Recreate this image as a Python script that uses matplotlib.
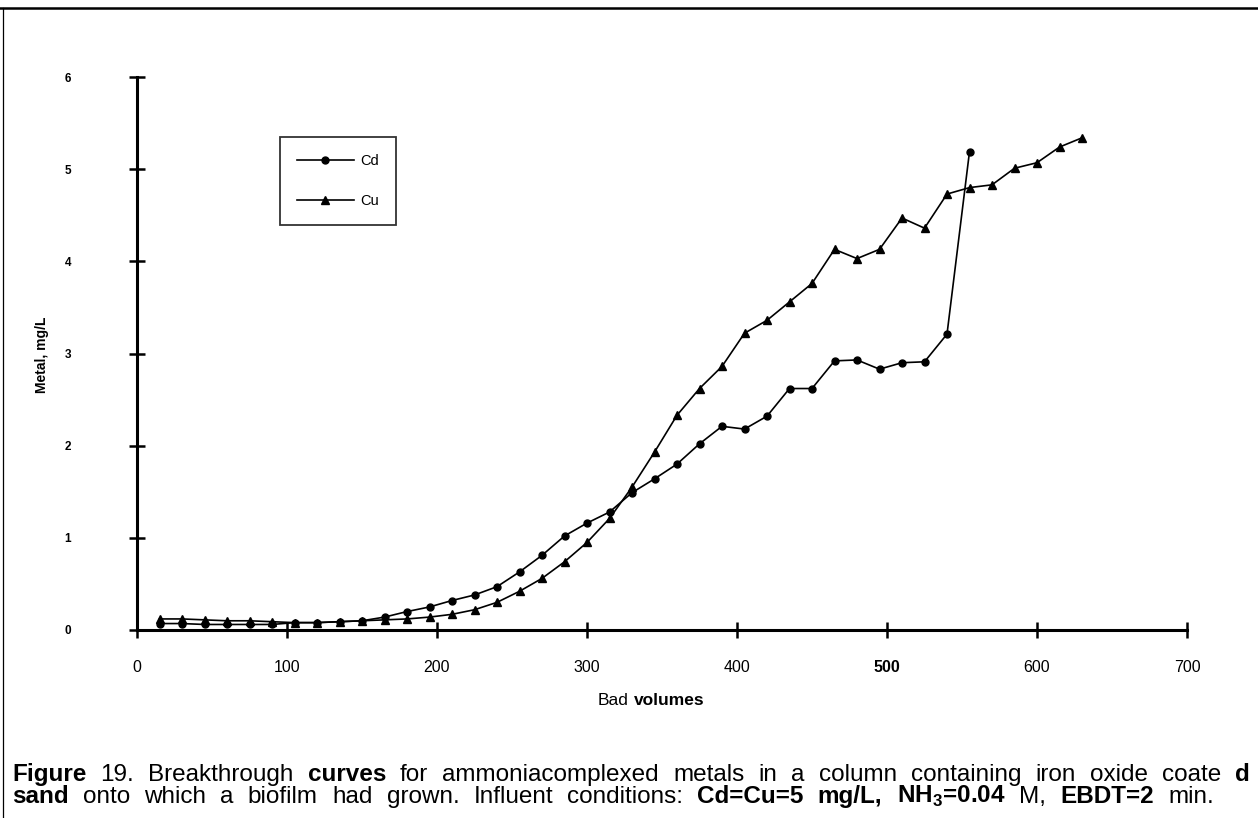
import matplotlib
matplotlib.use("Agg")
import matplotlib.pyplot as plt
from matplotlib.lines import Line2D

plt.rcParams['font.family'] = ['Liberation Sans', 'DejaVu Sans']
plt.rcParams['mathtext.fontset'] = 'custom'
plt.rcParams['mathtext.rm'] = 'Liberation Sans'
plt.rcParams['mathtext.bf'] = 'Liberation Sans:bold'

# Bed volumes and effluent concentrations (mg/L)
cd_bv = [15, 30, 45, 60, 75, 90, 105, 120, 135, 150, 165, 180, 195, 210, 225,
         240, 255, 270, 285, 300, 315, 330, 345, 360, 375, 390, 405, 420, 435,
         450, 465, 480, 495, 510, 525, 540, 555]
cd_val = [0.07, 0.07, 0.06, 0.06, 0.06, 0.06, 0.08, 0.08, 0.09, 0.10, 0.14,
          0.20, 0.25, 0.32, 0.38, 0.47, 0.63, 0.81, 1.02, 1.16, 1.28, 1.49,
          1.64, 1.80, 2.02, 2.21, 2.18, 2.32, 2.62, 2.62, 2.92, 2.93, 2.83,
          2.90, 2.91, 3.21, 5.19]

cu_bv = [15, 30, 45, 60, 75, 90, 105, 120, 135, 150, 165, 180, 195, 210, 225,
         240, 255, 270, 285, 300, 315, 330, 345, 360, 375, 390, 405, 420, 435,
         450, 465, 480, 495, 510, 525, 540, 555, 570, 585, 600, 615, 630]
cu_val = [0.12, 0.12, 0.11, 0.10, 0.10, 0.09, 0.08, 0.08, 0.09, 0.10, 0.11,
          0.12, 0.14, 0.17, 0.22, 0.30, 0.42, 0.56, 0.74, 0.95, 1.21, 1.55,
          1.93, 2.33, 2.62, 2.86, 3.22, 3.36, 3.56, 3.76, 4.13, 4.03, 4.13,
          4.47, 4.36, 4.73, 4.80, 4.83, 5.01, 5.07, 5.24, 5.34]

x_ticks = [0, 100, 200, 300, 400, 500, 600, 700]
y_ticks = [0, 1, 2, 3, 4, 5, 6]

W, H = 1258, 818
fig = plt.figure(figsize=(W / 100, H / 100), dpi=100)
fig.patch.set_facecolor('white')

# axes: x 0..700 -> px 137..1187 ; y 0..6 -> px 630..77
ax = fig.add_axes([137 / W, (H - 630) / H, 1050 / W, (630 - 77) / H])
ax.set_xlim(0, 700)
ax.set_ylim(0, 6)
ax.patch.set_alpha(0)

ax.plot(cd_bv, cd_val, color='black', lw=1.2, marker='o', ms=5, clip_on=False,
        label='Cd')
ax.plot(cu_bv, cu_val, color='black', lw=1.2, marker='^', ms=5.5, clip_on=False,
        label='Cu')

for s in ['top', 'right']:
    ax.spines[s].set_visible(False)
for s in ['left', 'bottom']:
    ax.spines[s].set_linewidth(2.2)

ax.set_xticks(x_ticks)
ax.set_yticks(y_ticks)
ax.set_xticklabels([str(v) for v in x_ticks])
ax.set_yticklabels([str(v) for v in y_ticks])
ax.tick_params(axis='x', direction='inout', length=11, width=1.8, pad=16,
               labelsize=11.5)
ax.tick_params(axis='y', direction='inout', length=11, width=1.8, pad=42,
               labelsize=8.5)
for t in ax.get_yticklabels():
    t.set_fontweight('bold')
for t in ax.get_xticklabels():
    if t.get_text() == '500':
        t.set_fontweight('bold')

leg = ax.legend(loc='upper left', bbox_to_anchor=((280 - 137) / 1050, (630 - 137) / 553),
                frameon=True, fancybox=False, edgecolor='black', fontsize=10.5,
                handlelength=3.9, borderpad=1.15, labelspacing=1.8,
                handletextpad=0.45, borderaxespad=0)
leg.get_frame().set_linewidth(1.3)

# y label
fig.text(42 / W, 1 - 355 / H, 'Metal, mg/L', rotation=90, ha='center',
         va='center', fontsize=10, fontweight='bold')

renderer = fig.canvas.get_renderer()


def chain(parts, x_px, y_px, size, right_px=None):
    """Place words one after another on a common baseline; optionally
    spread the word gaps so the line ends at right_px."""
    space = size * 100 / 72 * 0.278
    words = []
    for text, weight, gap in parts:
        toks = text.split(' ')
        for i, tok in enumerate(toks):
            last = i == len(toks) - 1
            words.append((tok, weight, gap if last else True))
    arts = []
    for tok, weight, gap in words:
        t = fig.text(0, 1 - y_px / H, tok, fontsize=size, fontweight=weight,
                     ha='left', va='baseline')
        arts.append((t, t.get_window_extent(renderer=renderer).width, gap))
    ngaps = sum(1 for a in arts[:-1] if a[2])
    total = sum(a[1] for a in arts) + ngaps * space
    extra = 0.0
    if right_px is not None and ngaps:
        extra = max(0.0, (right_px - x_px - total) / ngaps)
    x = x_px
    for t, w, gap in arts:
        t.set_x(x / W)
        x += w + ((space + extra) if gap else 0)


chain([('Bad', 'normal', True), ('volumes', 'bold', False)], 598, 705, 12.5)

chain([('Figure', 'bold', True),
       ('19. Breakthrough', 'normal', True),
       ('curves', 'bold', True),
       ('for ammoniacomplexed metals in a column containing iron oxide coate', 'normal', True),
       ('d', 'bold', False)], 12, 781, 17.5, right_px=1250)

chain([('sand', 'bold', True),
       ('onto which a biofilm had grown. Influent conditions:', 'normal', True),
       (r'Cd=Cu=5 mg/L, NH$_\mathbf{3}$=0.04', 'bold', True),
       ('M,', 'normal', True),
       ('EBDT=2', 'bold', True),
       ('min.', 'normal', False)], 12, 803, 17.5, right_px=1214)

# page border lines
fig.add_artist(Line2D([0, 1], [1 - 8 / H, 1 - 8 / H], color='black', lw=1.8,
                      transform=fig.transFigure))
fig.add_artist(Line2D([3 / W, 3 / W], [0, 1 - 8 / H], color='black', lw=0.9,
                      transform=fig.transFigure))

fig.savefig('out.png', dpi=100, facecolor='white')
